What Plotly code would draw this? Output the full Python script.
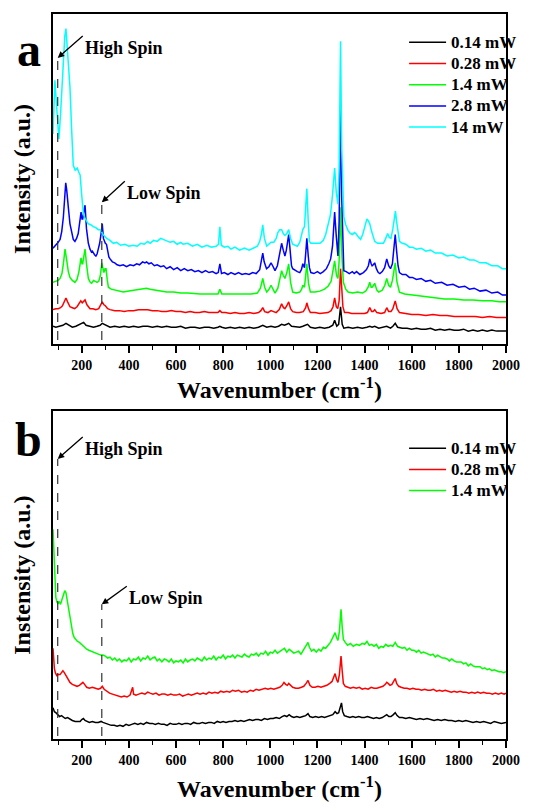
import plotly.graph_objects as go

# ---------------- Panel a: Raman spectra at five laser powers ----------------
powers_a = ["0.14 mW", "0.28 mW", "1.4 mW", "2.8 mW", "14 mW"]
colors_a = ["#000000", "#ff0000", "#00ff00", "#0000ff", "#00ffff"]

# (wavenumber cm-1, intensity a.u.) pairs, stacked with vertical offsets
spec_a_014 = [
    (78, 18), (90, 17), (105, 18), (120, 19), (133, 21), (145, 19), (160, 17), (175, 18), (190, 20),
    (200, 21), (208, 22), (218, 19), (232, 18), (250, 17), (265, 18), (278, 19), (287, 21), (295, 20),
    (305, 19), (320, 17), (340, 18), (360, 17), (380, 18), (400, 17), (420, 18), (440, 17), (460, 18),
    (480, 18), (500, 17), (520, 18), (540, 17), (560, 18), (580, 17), (600, 17), (620, 18), (640, 16),
    (660, 17), (680, 17), (700, 16), (720, 17), (740, 17), (760, 16), (778, 17), (786, 18), (794, 17),
    (810, 16), (830, 17), (850, 16), (870, 17), (890, 16), (910, 17), (930, 16), (950, 17), (968, 19),
    (985, 17), (1003, 18), (1020, 17), (1035, 18), (1048, 20), (1060, 19), (1070, 20), (1078, 21),
    (1090, 18), (1110, 17), (1125, 17), (1138, 18), (1150, 19), (1158, 20), (1170, 17), (1190, 16),
    (1210, 17), (1230, 16), (1250, 17), (1265, 19), (1273, 24), (1282, 18), (1290, 20), (1298, 38),
    (1305, 20), (1312, 16), (1330, 17), (1350, 16), (1370, 17), (1390, 16), (1410, 17), (1422, 18),
    (1432, 17), (1443, 18), (1460, 16), (1480, 17), (1494, 18), (1510, 16), (1520, 18), (1530, 21),
    (1540, 17), (1560, 16), (1580, 16), (1600, 15), (1620, 16), (1640, 15), (1660, 15), (1680, 16),
    (1700, 14), (1720, 15), (1740, 14), (1760, 15), (1780, 14), (1800, 14), (1820, 15), (1840, 13),
    (1860, 14), (1880, 13), (1900, 14), (1920, 13), (1940, 14), (1960, 13), (1980, 13), (2000, 13),
]

spec_a_028 = [
    (78, 35), (90, 36), (100, 36), (110, 37), (118, 39), (126, 43), (133, 47), (140, 43), (150, 38),
    (160, 37), (170, 36), (180, 38), (190, 42), (196, 44), (202, 42), (207, 43), (214, 45), (222, 40),
    (235, 36), (248, 36), (260, 35), (272, 36), (280, 39), (287, 43), (294, 40), (300, 39), (310, 36),
    (320, 35), (340, 34), (360, 34), (380, 33), (400, 34), (420, 34), (440, 35), (460, 35), (480, 35),
    (500, 34), (520, 34), (540, 33), (560, 33), (580, 34), (600, 33), (620, 33), (640, 32), (660, 33),
    (680, 32), (700, 32), (720, 33), (740, 32), (760, 32), (778, 32), (786, 34), (794, 32), (810, 32),
    (830, 31), (850, 32), (870, 31), (890, 31), (910, 32), (930, 31), (950, 32), (960, 34), (968, 37),
    (976, 33), (990, 32), (1003, 34), (1012, 33), (1025, 32), (1038, 35), (1048, 41), (1056, 37),
    (1062, 36), (1070, 39), (1078, 43), (1086, 36), (1095, 33), (1110, 32), (1125, 32), (1140, 33),
    (1150, 37), (1155, 42), (1162, 36), (1170, 32), (1190, 32), (1210, 31), (1230, 32), (1245, 32),
    (1258, 34), (1266, 38), (1273, 47), (1280, 38), (1286, 36), (1292, 44), (1298, 77), (1303, 55),
    (1308, 38), (1315, 32), (1330, 32), (1345, 31), (1360, 31), (1380, 31), (1400, 31), (1412, 32),
    (1422, 37), (1430, 33), (1436, 33), (1443, 35), (1452, 32), (1470, 31), (1485, 32), (1494, 37),
    (1502, 33), (1512, 33), (1520, 36), (1530, 44), (1538, 36), (1548, 32), (1570, 31), (1600, 30),
    (1630, 30), (1660, 29), (1690, 30), (1720, 29), (1750, 29), (1780, 28), (1810, 28), (1840, 28),
    (1870, 28), (1900, 27), (1930, 28), (1960, 27), (2000, 27),
]

spec_a_14 = [
    (78, 63), (90, 64), (100, 65), (108, 67), (116, 72), (122, 82), (129, 97), (136, 86), (143, 74),
    (150, 68), (160, 65), (171, 63), (180, 66), (188, 74), (197, 88), (201, 82), (204, 82), (209, 90),
    (214, 97), (220, 82), (228, 67), (236, 63), (242, 62), (250, 65), (257, 64), (265, 63), (272, 64),
    (279, 70), (285, 83), (290, 75), (294, 73), (299, 77), (303, 77), (308, 66), (313, 58), (325, 56),
    (340, 55), (360, 54), (376, 53), (400, 54), (420, 55), (440, 56), (460, 57), (475, 57), (490, 56),
    (510, 55), (530, 54), (560, 53), (590, 53), (620, 52), (650, 52), (680, 51), (702, 51), (730, 51),
    (760, 51), (778, 51), (786, 56), (794, 51), (810, 51), (833, 51), (860, 51), (890, 51), (920, 51),
    (945, 52), (958, 57), (968, 67), (976, 58), (985, 53), (995, 56), (1003, 60), (1012, 55),
    (1020, 52), (1032, 57), (1042, 68), (1048, 75), (1055, 70), (1062, 67), (1070, 73), (1078, 82),
    (1086, 63), (1095, 53), (1110, 52), (1125, 53), (1133, 56), (1138, 60), (1145, 58), (1150, 68),
    (1155, 82), (1162, 62), (1170, 53), (1190, 53), (1210, 54), (1230, 56), (1245, 59), (1258, 64),
    (1266, 74), (1273, 85), (1281, 70), (1287, 67), (1292, 85), (1298, 140), (1304, 90), (1310, 63),
    (1320, 56), (1330, 53), (1350, 52), (1370, 53), (1390, 52), (1405, 54), (1415, 58), (1422, 63),
    (1428, 58), (1432, 58), (1438, 60), (1443, 62), (1452, 55), (1460, 53), (1475, 55), (1486, 60),
    (1494, 67), (1502, 60), (1510, 58), (1518, 65), (1524, 74), (1530, 83), (1537, 64), (1548, 53),
    (1570, 51), (1600, 50), (1630, 49), (1660, 48), (1700, 47), (1740, 46), (1780, 46), (1820, 45),
    (1860, 45), (1900, 44), (1940, 44), (1970, 43), (2000, 43),
]

spec_a_28 = [
    (78, 98), (86, 100), (94, 102), (100, 104), (108, 107), (115, 115), (122, 130), (127, 150),
    (132, 165), (136, 158), (140, 150), (145, 135), (150, 123), (158, 112), (164, 107), (171, 105),
    (178, 108), (185, 113), (191, 123), (197, 135), (201, 128), (204, 128), (209, 136), (214, 142),
    (220, 118), (225, 106), (228, 103), (235, 97), (241, 94), (245, 95), (250, 92), (255, 91),
    (260, 90), (265, 92), (270, 97), (276, 103), (282, 113), (287, 123), (292, 108), (296, 104),
    (300, 103), (305, 102), (310, 93), (315, 89), (320, 87), (330, 84), (340, 83), (350, 81),
    (362, 80), (376, 81), (390, 79), (405, 81), (420, 80), (433, 82), (445, 81), (458, 84), (468, 83),
    (475, 84), (485, 82), (495, 83), (508, 80), (520, 81), (535, 79), (548, 80), (560, 77), (575, 79),
    (590, 76), (605, 78), (620, 75), (635, 77), (650, 75), (665, 76), (680, 74), (695, 75), (710, 73),
    (725, 75), (740, 73), (755, 74), (770, 72), (779, 73), (786, 82), (793, 72), (805, 73), (820, 71),
    (833, 73), (850, 71), (865, 73), (880, 71), (895, 72), (910, 71), (925, 73), (940, 72), (955, 76),
    (962, 84), (968, 93), (974, 84), (984, 77), (994, 79), (1003, 83), (1010, 80), (1020, 75),
    (1030, 80), (1038, 92), (1044, 100), (1048, 103), (1055, 96), (1062, 90), (1068, 96), (1073, 105),
    (1078, 112), (1084, 96), (1090, 80), (1095, 77), (1105, 75), (1115, 74), (1125, 73), (1132, 76),
    (1138, 82), (1145, 78), (1150, 92), (1155, 108), (1161, 90), (1166, 78), (1172, 73), (1185, 72),
    (1200, 74), (1212, 72), (1225, 74), (1238, 77), (1248, 82), (1256, 87), (1264, 100), (1273, 135),
    (1280, 110), (1287, 90), (1292, 125), (1298, 245), (1303, 150), (1308, 90), (1312, 75), (1322, 74),
    (1335, 72), (1348, 74), (1356, 72), (1366, 74), (1380, 71), (1395, 73), (1408, 76), (1416, 80),
    (1422, 87), (1428, 82), (1432, 80), (1437, 81), (1443, 83), (1450, 77), (1458, 73), (1465, 72),
    (1475, 74), (1485, 78), (1494, 87), (1502, 80), (1510, 77), (1518, 82), (1524, 96), (1530, 112),
    (1536, 95), (1542, 80), (1548, 73), (1560, 71), (1575, 71), (1590, 68), (1603, 68), (1620, 66),
    (1640, 67), (1660, 64), (1680, 65), (1700, 62), (1727, 63), (1750, 60), (1775, 61), (1800, 58),
    (1825, 59), (1845, 56), (1865, 57), (1890, 54), (1915, 55), (1940, 52), (1965, 53), (1985, 50),
    (2000, 50),
]

spec_a_140 = [
    (78, 215), (82, 250), (86, 270), (90, 255), (96, 228), (103, 210), (110, 235), (116, 262),
    (122, 290), (128, 315), (133, 323), (138, 305), (144, 280), (150, 263), (157, 220), (164, 183),
    (172, 178), (181, 180), (187, 176), (193, 173), (200, 152), (207, 133), (215, 128), (222, 125),
    (228, 123), (238, 122), (249, 120), (260, 119), (270, 117), (277, 117), (284, 115), (290, 112),
    (298, 110), (306, 108), (320, 106), (334, 103), (348, 104), (365, 101), (383, 102), (400, 100),
    (418, 101), (435, 100), (450, 103), (465, 102), (480, 105), (490, 103), (505, 106), (520, 105),
    (535, 108), (545, 107), (560, 106), (575, 104), (590, 105), (605, 102), (620, 104), (630, 102),
    (650, 103), (670, 100), (690, 102), (710, 99), (731, 101), (750, 99), (770, 100), (780, 102),
    (786, 120), (792, 101), (805, 99), (820, 100), (833, 97), (850, 99), (870, 96), (890, 98),
    (910, 96), (930, 98), (945, 100), (955, 105), (962, 112), (968, 122), (975, 108), (985, 100),
    (995, 102), (1003, 104), (1015, 104), (1025, 108), (1032, 114), (1040, 117), (1048, 117),
    (1055, 113), (1062, 111), (1070, 113), (1078, 117), (1086, 108), (1095, 102), (1105, 101),
    (1115, 100), (1125, 104), (1132, 110), (1138, 117), (1145, 120), (1150, 140), (1155, 159),
    (1161, 125), (1166, 105), (1172, 103), (1190, 103), (1211, 103), (1225, 106), (1235, 112),
    (1246, 123), (1255, 132), (1263, 150), (1270, 175), (1273, 180), (1280, 155), (1287, 143),
    (1292, 180), (1298, 310), (1303, 200), (1308, 140), (1312, 130), (1320, 122), (1330, 116),
    (1340, 113), (1349, 112), (1357, 114), (1363, 113), (1372, 110), (1383, 107), (1392, 112),
    (1400, 120), (1405, 126), (1410, 128), (1416, 126), (1422, 123), (1430, 115), (1437, 108),
    (1443, 105), (1455, 103), (1468, 103), (1480, 103), (1488, 107), (1494, 112), (1498, 113),
    (1505, 109), (1512, 108), (1520, 118), (1526, 130), (1531, 136), (1536, 125), (1542, 112),
    (1548, 105), (1560, 103), (1575, 102), (1590, 99), (1603, 99), (1620, 97), (1640, 98), (1660, 95),
    (1680, 96), (1700, 93), (1727, 93), (1750, 90), (1775, 91), (1800, 88), (1820, 89), (1845, 86),
    (1865, 86), (1890, 83), (1915, 83), (1940, 80), (1965, 80), (1985, 77), (2000, 77),
]

# ---------------- Panel b: three lowest powers ----------------
powers_b = ["0.14 mW", "0.28 mW", "1.4 mW"]
colors_b = ["#000000", "#ff0000", "#00ff00"]

spec_b_014 = [
    (78, 32), (84, 28), (90, 27), (98, 25), (106, 23), (114, 24), (122, 22), (130, 21), (140, 22),
    (150, 20), (160, 19), (172, 18), (184, 18), (193, 18), (200, 20), (207, 21), (214, 19), (222, 18),
    (232, 17), (245, 18), (258, 17), (270, 17), (282, 18), (290, 17), (300, 16), (312, 15), (325, 14),
    (338, 14), (350, 13), (362, 14), (375, 13), (388, 15), (400, 14), (412, 15), (425, 16), (438, 15),
    (450, 16), (462, 15), (475, 17), (488, 16), (500, 16), (512, 15), (525, 16), (538, 15), (550, 15),
    (562, 14), (575, 16), (588, 15), (600, 15), (612, 16), (625, 15), (638, 16), (650, 16), (662, 15),
    (675, 17), (688, 16), (700, 16), (712, 17), (725, 16), (738, 17), (750, 17), (762, 16), (775, 18),
    (788, 17), (800, 18), (812, 17), (825, 18), (838, 18), (850, 19), (862, 18), (875, 19), (888, 18),
    (900, 19), (912, 20), (925, 19), (938, 20), (950, 20), (962, 19), (975, 21), (988, 20), (1000, 21),
    (1012, 21), (1025, 22), (1038, 21), (1050, 23), (1060, 24), (1070, 23), (1080, 25), (1090, 23),
    (1100, 22), (1112, 23), (1125, 22), (1138, 23), (1150, 24), (1160, 26), (1168, 23), (1180, 22),
    (1192, 23), (1205, 22), (1218, 23), (1230, 22), (1242, 23), (1255, 24), (1265, 25), (1275, 28),
    (1283, 26), (1290, 27), (1297, 33), (1302, 37), (1307, 28), (1314, 24), (1325, 23), (1338, 22),
    (1350, 23), (1362, 22), (1375, 23), (1388, 22), (1400, 22), (1412, 23), (1425, 22), (1438, 21),
    (1450, 22), (1462, 21), (1475, 22), (1485, 24), (1494, 25), (1503, 23), (1512, 23), (1522, 25),
    (1530, 27), (1538, 24), (1548, 22), (1560, 22), (1575, 21), (1590, 22), (1605, 21), (1620, 20),
    (1635, 21), (1650, 20), (1665, 21), (1680, 20), (1695, 19), (1710, 20), (1725, 19), (1740, 20),
    (1755, 19), (1770, 19), (1785, 18), (1800, 19), (1815, 18), (1830, 19), (1845, 18), (1860, 17),
    (1875, 18), (1890, 17), (1905, 18), (1920, 17), (1935, 16), (1950, 18), (1965, 17), (1980, 16),
    (2000, 17),
]

spec_b_028 = [
    (78, 93), (81, 80), (84, 72), (88, 68), (94, 65), (100, 66), (108, 66), (114, 68), (120, 70),
    (126, 68), (133, 65), (140, 61), (150, 58), (160, 56), (170, 55), (180, 54), (190, 55), (198, 57),
    (205, 58), (212, 56), (221, 53), (232, 52), (245, 53), (258, 52), (270, 51), (280, 52), (287, 54),
    (295, 51), (305, 49), (318, 47), (330, 46), (342, 45), (355, 44), (368, 43), (380, 44), (392, 43),
    (405, 45), (412, 50), (416, 53), (420, 46), (430, 45), (442, 46), (455, 47), (468, 46), (480, 48),
    (490, 47), (502, 46), (515, 47), (528, 45), (540, 46), (552, 46), (565, 45), (578, 46), (590, 45),
    (602, 45), (615, 46), (628, 44), (640, 45), (652, 46), (665, 45), (678, 46), (690, 47), (702, 46),
    (715, 47), (728, 46), (740, 48), (752, 47), (765, 48), (778, 47), (790, 49), (802, 48), (815, 49),
    (828, 48), (840, 50), (852, 49), (865, 50), (878, 48), (890, 49), (902, 48), (915, 50), (928, 49),
    (940, 51), (952, 50), (965, 51), (978, 52), (990, 51), (1002, 52), (1015, 51), (1028, 52),
    (1040, 53), (1050, 55), (1058, 58), (1065, 56), (1072, 55), (1078, 57), (1085, 55), (1095, 53),
    (1108, 52), (1120, 52), (1132, 53), (1142, 54), (1152, 57), (1160, 60), (1168, 55), (1178, 53),
    (1190, 53), (1202, 54), (1215, 53), (1228, 54), (1240, 55), (1252, 57), (1262, 59), (1270, 64),
    (1275, 67), (1281, 61), (1287, 58), (1293, 66), (1300, 85), (1305, 70), (1310, 57), (1318, 54),
    (1328, 53), (1340, 52), (1352, 53), (1365, 52), (1378, 53), (1390, 51), (1402, 52), (1415, 51),
    (1428, 53), (1440, 52), (1452, 52), (1465, 53), (1478, 54), (1488, 56), (1494, 58), (1500, 57),
    (1508, 55), (1516, 56), (1523, 59), (1530, 62), (1536, 57), (1545, 54), (1555, 53), (1568, 52),
    (1580, 52), (1592, 51), (1605, 52), (1618, 51), (1630, 51), (1642, 50), (1655, 51), (1668, 50),
    (1680, 50), (1692, 51), (1705, 49), (1718, 50), (1730, 49), (1742, 50), (1755, 49), (1768, 48),
    (1780, 49), (1792, 48), (1805, 49), (1818, 48), (1830, 48), (1842, 47), (1855, 48), (1868, 47),
    (1880, 48), (1892, 47), (1905, 48), (1918, 47), (1930, 47), (1942, 46), (1955, 47), (1968, 46),
    (1980, 47), (1992, 46), (2000, 47),
]

spec_b_14 = [
    (78, 215), (80, 200), (83, 178), (86, 158), (90, 145), (95, 140), (100, 139), (105, 141),
    (110, 138), (116, 143), (122, 148), (128, 152), (133, 150), (138, 143), (144, 134), (150, 125),
    (156, 116), (162, 108), (168, 104), (175, 102), (182, 100), (190, 99), (198, 97), (206, 95),
    (214, 94), (221, 92), (230, 91), (240, 90), (250, 89), (260, 88), (270, 87), (280, 86), (290, 86),
    (300, 85), (310, 83), (320, 84), (330, 81), (340, 83), (350, 80), (360, 82), (370, 79), (380, 81),
    (390, 80), (400, 83), (410, 79), (420, 82), (430, 81), (440, 84), (450, 80), (460, 83), (470, 82),
    (480, 85), (490, 81), (500, 83), (510, 84), (520, 80), (530, 82), (540, 79), (550, 82), (560, 81),
    (570, 79), (580, 82), (590, 78), (600, 80), (610, 79), (620, 81), (630, 78), (640, 82), (650, 79),
    (660, 81), (670, 82), (680, 80), (690, 83), (700, 81), (710, 80), (720, 84), (730, 81), (740, 83),
    (750, 82), (760, 85), (770, 81), (780, 84), (790, 83), (800, 86), (810, 82), (820, 85), (830, 84),
    (840, 86), (850, 83), (860, 86), (870, 85), (880, 84), (890, 87), (900, 85), (910, 84), (920, 87),
    (930, 86), (940, 88), (950, 85), (960, 88), (970, 87), (980, 90), (990, 86), (1000, 89),
    (1010, 88), (1020, 91), (1030, 88), (1040, 90), (1050, 91), (1060, 93), (1070, 89), (1080, 92),
    (1090, 90), (1100, 88), (1110, 89), (1120, 90), (1130, 87), (1140, 91), (1148, 93), (1155, 97),
    (1160, 99), (1166, 94), (1175, 90), (1185, 92), (1195, 89), (1205, 92), (1215, 90), (1225, 94),
    (1235, 93), (1245, 96), (1255, 99), (1263, 103), (1270, 107), (1275, 109), (1281, 104), (1287, 101),
    (1293, 110), (1300, 133), (1305, 115), (1310, 102), (1318, 99), (1328, 96), (1340, 98), (1352, 95),
    (1365, 97), (1378, 96), (1390, 98), (1400, 97), (1410, 100), (1420, 96), (1430, 97), (1440, 95),
    (1450, 97), (1460, 93), (1470, 95), (1480, 94), (1490, 97), (1500, 95), (1510, 96), (1520, 95),
    (1530, 99), (1540, 95), (1550, 94), (1560, 93), (1570, 94), (1580, 91), (1590, 93), (1600, 91),
    (1610, 91), (1620, 89), (1630, 91), (1640, 88), (1650, 89), (1660, 88), (1670, 87), (1680, 86),
    (1690, 87), (1700, 84), (1710, 86), (1720, 84), (1730, 83), (1740, 83), (1750, 82), (1760, 80),
    (1770, 82), (1780, 80), (1790, 79), (1800, 79), (1810, 79), (1820, 77), (1830, 78), (1840, 75),
    (1850, 77), (1860, 75), (1870, 74), (1880, 74), (1890, 74), (1900, 72), (1910, 73), (1920, 71),
    (1930, 72), (1940, 70), (1950, 71), (1960, 70), (1970, 69), (1980, 69), (1990, 68), (2000, 69),
]

# Marker positions of the spin-state bands (cm-1)
high_spin_wn = 98
low_spin_wn = 285

X_RANGE = [78, 2000]
YA_RANGE = [0, 338]
YB_RANGE = [0, 336]

SERIF = "Liberation Serif, Times New Roman, serif"

fig = go.Figure()

series_a = [spec_a_014, spec_a_028, spec_a_14, spec_a_28, spec_a_140]
for spec, name, col in zip(series_a, powers_a, colors_a):
    wn, inten = zip(*spec)
    fig.add_trace(go.Scatter(x=list(wn), y=list(inten), mode="lines",
                             name=f"<span style='font-size:17px'>{name}</span>",
                             line=dict(color=col, width=1.5),
                             xaxis="x", yaxis="y", legend="legend"))

series_b = [spec_b_014, spec_b_028, spec_b_14]
for spec, name, col in zip(series_b, powers_b, colors_b):
    wn, inten = zip(*spec)
    fig.add_trace(go.Scatter(x=list(wn), y=list(inten), mode="lines",
                             name=f"<span style='font-size:17px'>{name}</span>",
                             line=dict(color=col, width=1.5),
                             xaxis="x2", yaxis="y2", legend="legend2"))

xaxis_common = dict(
    range=X_RANGE, dtick=200, tick0=0, ticks="outside", ticklen=7, tickwidth=1.5,
    tickcolor="black", showline=True, linewidth=2, linecolor="black", mirror=True,
    showgrid=False, zeroline=False,
    tickfont=dict(family=SERIF, size=14, color="black", weight="bold"),
    minor=dict(dtick=100, ticks="outside", ticklen=4, tickwidth=1.2, tickcolor="black"),
)
yaxis_common = dict(
    showline=True, linewidth=2, linecolor="black", mirror=True, showgrid=False,
    zeroline=False, showticklabels=False, ticks="",
)

title_font = dict(family=SERIF, size=24, color="black", weight="bold")
legend_font = dict(family=SERIF, size=14, color="black", weight="bold")

fig.update_layout(
    width=541, height=810,
    margin=dict(l=53, r=35, t=12, b=55),
    paper_bgcolor="white", plot_bgcolor="white",
    showlegend=True, hovermode=False,
    xaxis=dict(**xaxis_common, domain=[0, 1], anchor="y",
               title=dict(text="Wavenumber (cm<sup>-1</sup>)", font=title_font, standoff=6)),
    yaxis=dict(**yaxis_common, domain=[0.5451, 1], range=YA_RANGE, anchor="x",
               title=dict(text="Intensity (a.u.)", font=title_font, standoff=14)),
    xaxis2=dict(**xaxis_common, domain=[0, 1], anchor="y2",
                title=dict(text="Wavenumber (cm<sup>-1</sup>)", font=title_font, standoff=13)),
    yaxis2=dict(**yaxis_common, domain=[0, 0.4522], range=YB_RANGE, anchor="x2",
                title=dict(text="Instensity (a.u.)", font=title_font, standoff=14)),
    legend=dict(x=0.775, y=0.9825, xanchor="left", yanchor="top", bgcolor="rgba(0,0,0,0)",
                font=legend_font, itemwidth=37, tracegroupgap=0),
    legend2=dict(x=0.775, y=0.4226, xanchor="left", yanchor="top", bgcolor="rgba(0,0,0,0)",
                 font=legend_font, itemwidth=37, tracegroupgap=0),
)

# Dashed guide lines for the high-spin and low-spin bands
for xref, yref, top_hs, top_ls, bottom in [("x", "y", 293, 145, 4), ("x2", "y2", 287, 138, 3)]:
    for wn, top in [(high_spin_wn, top_hs), (low_spin_wn, top_ls)]:
        fig.add_shape(type="line", xref=xref, yref=yref, x0=wn, x1=wn, y0=bottom, y1=top,
                      line=dict(color="#333333", width=1.2, dash="dash"))

# Band labels with arrows pointing at the top of each guide line
label_font = dict(family=SERIF, size=18, color="black", weight="bold")
arrow_style = dict(showarrow=True, arrowhead=2, arrowsize=1, arrowwidth=1.3,
                   arrowcolor="black", xanchor="left", yanchor="top", font=label_font)
fig.add_annotation(text="High Spin", x=high_spin_wn, y=293, xref="x", yref="y",
                   ax=25, ay=-22, **arrow_style)
fig.add_annotation(text="Low Spin", x=low_spin_wn, y=145, xref="x", yref="y",
                   ax=23, ay=-21, **arrow_style)
fig.add_annotation(text="High Spin", x=high_spin_wn, y=287, xref="x2", yref="y2",
                   ax=25, ay=-22, **arrow_style)
fig.add_annotation(text="Low Spin", x=low_spin_wn, y=138, xref="x2", yref="y2",
                   ax=25, ay=-18, **arrow_style)

# Panel letters
panel_font = dict(family=SERIF, size=48, color="black", weight="bold")
fig.add_annotation(text="a", x=-0.053, y=0.9515, xref="paper", yref="paper",
                   xanchor="center", yanchor="middle", showarrow=False, font=panel_font)
fig.add_annotation(text="b", x=-0.053, y=0.4135, xref="paper", yref="paper",
                   xanchor="center", yanchor="middle", showarrow=False, font=panel_font)

fig.write_html("out.html", config={"displayModeBar": False})
